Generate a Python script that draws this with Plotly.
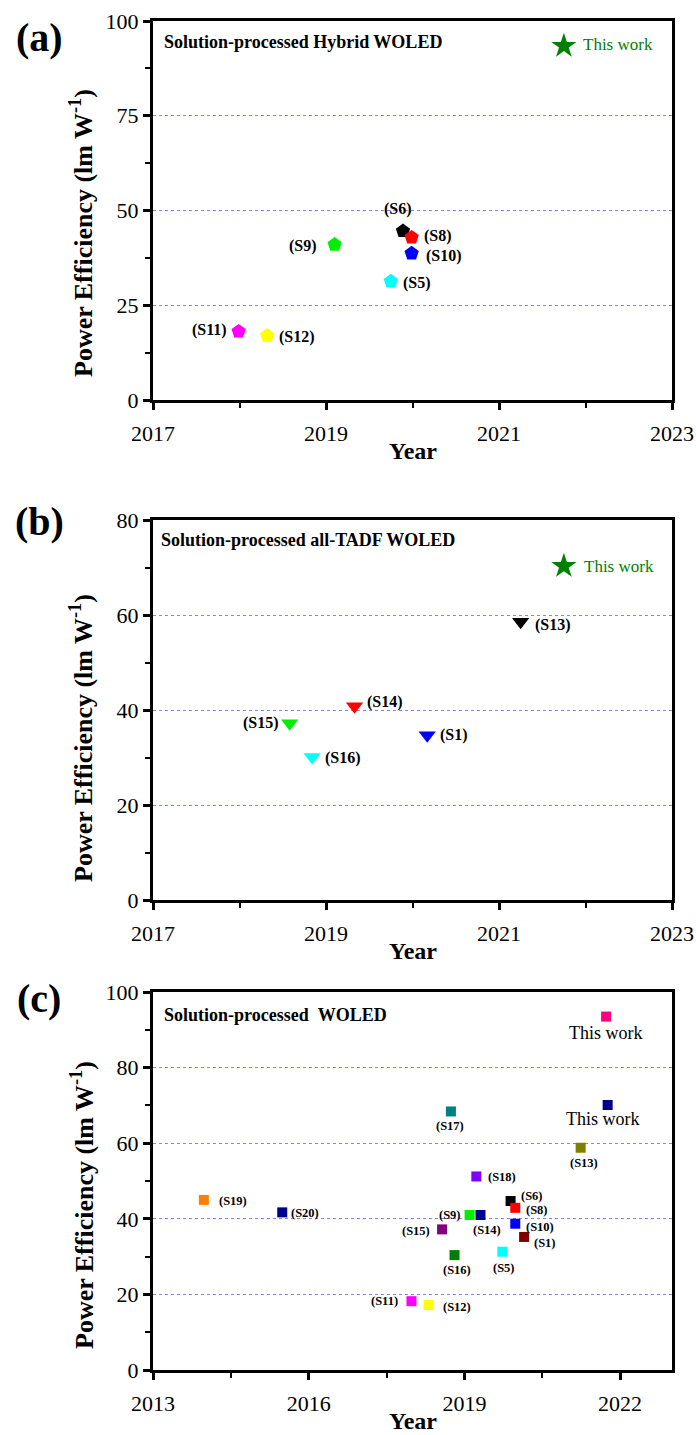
import plotly.graph_objects as go

# ---------------- data ----------------
# (a) solution-processed hybrid WOLEDs
hyb_refs = ["(S6)", "(S8)", "(S9)", "(S10)", "(S5)", "(S11)", "(S12)"]
hyb_year = [2019.89, 2019.99, 2019.10, 2019.99, 2019.75, 2017.99, 2018.32]
hyb_pe = [44.6, 42.9, 41.0, 38.7, 31.3, 18.1, 17.0]

# (b) solution-processed all-TADF WOLEDs
tadf_refs = ["(S13)", "(S14)", "(S15)", "(S16)", "(S1)"]
tadf_year = [2021.25, 2019.33, 2018.58, 2018.84, 2020.17]
tadf_pe = [58.6, 40.8, 37.2, 30.1, 34.7]

# this work (hybrid / all-TADF device)
work_year = 2021.75
work_pe_hybrid = 93.4
work_pe_tadf = 70.3

# (c) all solution-processed WOLEDs
all_refs = ["(S19)", "(S20)", "(S17)", "(S18)", "(S6)", "(S8)", "(S9)", "(S14)",
            "(S10)", "(S15)", "(S1)", "(S16)", "(S5)", "(S11)", "(S12)", "(S13)"]
all_year = [2013.98, 2015.49, 2018.74, 2019.23, 2019.89, 2019.98, 2019.10, 2019.31,
            2019.98, 2018.57, 2020.15, 2018.81, 2019.73, 2017.98, 2018.31, 2021.24]
all_pe = [45.0, 41.7, 68.4, 51.2, 44.7, 42.9, 41.0, 41.0,
          38.7, 37.2, 35.2, 30.4, 31.3, 18.2, 17.2, 58.8]
work_c_year = [2021.73, 2021.76]
work_c_pe = [93.5, 70.1]

# ---------------- styles ----------------
hyb_colors = ["#000000", "#ff0000", "#00ee00", "#0000ff", "#00ffff", "#ff00ff", "#ffff00"]
tadf_colors = ["#000000", "#ff0000", "#00ee00", "#00ffff", "#0000ff"]
all_colors = ["#ff8000", "#000090", "#008080", "#8000ff", "#000000", "#ff0000", "#00ee00",
              "#000090", "#0000ff", "#800080", "#800000", "#008000", "#00ffff", "#ff00ff",
              "#ffff00", "#808000"]
work_c_colors = ["#ff0080", "#000080"]
STAR = "#008000"
GRID = "#8484e4"
SERIF = "Liberation Serif"

# label placement: (xanchor, yanchor, xshift, yshift)
hyb_pos = {"(S6)": ("center", "middle", -5, 22), "(S8)": ("left", "middle", 10, 1),
           "(S9)": ("right", "middle", -16, -1), "(S10)": ("left", "middle", 12, -3),
           "(S5)": ("left", "middle", 10, -2), "(S11)": ("right", "middle", -10, 1),
           "(S12)": ("left", "middle", 10, -1)}
tadf_pos = {"(S13)": ("left", "middle", 12, -3), "(S14)": ("left", "middle", 10, 4),
            "(S15)": ("right", "middle", -9, 0), "(S16)": ("left", "middle", 11, -1),
            "(S1)": ("left", "middle", 11, 0)}
all_pos = {"(S19)": ("left", "middle", 13, -1), "(S20)": ("left", "middle", 7, -1),
           "(S17)": ("center", "middle", -1, -15), "(S18)": ("left", "middle", 10, -1),
           "(S6)": ("left", "middle", 8, 5), "(S8)": ("left", "middle", 9, -2),
           "(S9)": ("right", "middle", -7, 0), "(S14)": ("center", "middle", 7, -15),
           "(S10)": ("left", "middle", 9, -3), "(S15)": ("right", "middle", -10, -2),
           "(S1)": ("left", "middle", 8, -6), "(S16)": ("center", "middle", 2, -15),
           "(S5)": ("center", "middle", 2, -16), "(S11)": ("right", "middle", -11, 0),
           "(S12)": ("left", "middle", 12, -2), "(S13)": ("center", "middle", 3, -15)}

W, H = 696, 1435


def px(x):
    return x / W


def py(y):
    return 1 - y / H


# plot areas in pixels: (left, right, top, bottom)
boxes = [(153, 672, 21, 400), (153, 672, 520, 900), (153, 672, 992, 1370)]

fig = go.Figure()

# (a)
fig.add_trace(go.Scatter(x=hyb_year, y=hyb_pe, mode="markers", xaxis="x", yaxis="y",
                         marker=dict(symbol="pentagon", size=15, color=hyb_colors,
                                     line=dict(width=0)), showlegend=False))
fig.add_trace(go.Scatter(x=[work_year], y=[work_pe_hybrid], mode="markers", xaxis="x", yaxis="y",
                         marker=dict(symbol="star", size=19, color=STAR, line=dict(width=0)),
                         showlegend=False))
# (b)
fig.add_trace(go.Scatter(x=tadf_year, y=tadf_pe, mode="markers", xaxis="x2", yaxis="y2",
                         marker=dict(symbol="triangle-down", size=15, color=tadf_colors,
                                     line=dict(width=0)), showlegend=False))
fig.add_trace(go.Scatter(x=[work_year], y=[work_pe_tadf], mode="markers", xaxis="x2", yaxis="y2",
                         marker=dict(symbol="star", size=19, color=STAR, line=dict(width=0)),
                         showlegend=False))
# (c)
fig.add_trace(go.Scatter(x=all_year, y=all_pe, mode="markers", xaxis="x3", yaxis="y3",
                         marker=dict(symbol="square", size=10, color=all_colors,
                                     line=dict(width=0)), showlegend=False))
fig.add_trace(go.Scatter(x=work_c_year, y=work_c_pe, mode="markers", xaxis="x3", yaxis="y3",
                         marker=dict(symbol="square", size=10, color=work_c_colors,
                                     line=dict(width=0)), showlegend=False))

tick_font = dict(family=SERIF, size=22, color="black")


def xaxis(box, rng, tick0, dtick, minor):
    l, r, t, b = box
    return dict(domain=[px(l), px(r)], range=rng, tickmode="linear", tick0=tick0, dtick=dtick,
                tickformat="d", ticks="outside", ticklen=7, tickwidth=2.5, tickcolor="black",
                ticklabelstandoff=5,
                minor=dict(ticks="outside", dtick=minor, ticklen=5, tickwidth=2, tickcolor="black",
                           showgrid=False),
                showline=True, linewidth=3, linecolor="black", mirror=True,
                showgrid=False, zeroline=False, tickfont=tick_font, automargin=False,
                fixedrange=True)


def yaxis(box, rng, dtick, minor):
    l, r, t, b = box
    return dict(domain=[py(b), py(t)], range=rng, tickmode="linear", tick0=0, dtick=dtick,
                ticks="outside", ticklen=7, tickwidth=2.5, tickcolor="black",
                minor=dict(ticks="outside", dtick=minor, ticklen=5, tickwidth=2, tickcolor="black",
                           showgrid=False),
                showline=True, linewidth=3, linecolor="black", mirror=True,
                showgrid=True, gridcolor=GRID, griddash="dot", gridwidth=1.3,
                zeroline=False, tickfont=tick_font, automargin=False, fixedrange=True)


layout = dict(width=W, height=H, margin=dict(l=0, r=0, t=0, b=0),
              paper_bgcolor="white", plot_bgcolor="white", showlegend=False,
              font=dict(family=SERIF, color="black"))
layout["xaxis"] = xaxis(boxes[0], [2017, 2023], 2017, 2, 1)
layout["yaxis"] = yaxis(boxes[0], [0, 100], 25, 12.5)
layout["xaxis2"] = xaxis(boxes[1], [2017, 2023], 2017, 2, 1)
layout["yaxis2"] = yaxis(boxes[1], [0, 80], 20, 10)
layout["xaxis3"] = xaxis(boxes[2], [2013, 2023], 2013, 3, 1.5)
layout["yaxis3"] = yaxis(boxes[2], [0, 100], 20, 10)
layout["xaxis2"]["anchor"] = "y2"
layout["yaxis2"]["anchor"] = "x2"
layout["xaxis3"]["anchor"] = "y3"
layout["yaxis3"]["anchor"] = "x3"
fig.update_layout(**layout)

ann = []


def label(xref, yref, x, y, text, pos, size, bold=True, color="black"):
    xa, ya, xs, ys = pos
    ann.append(dict(xref=xref, yref=yref, x=x, y=y, text=f"<b>{text}</b>" if bold else text,
                    showarrow=False, xanchor=xa, yanchor=ya, xshift=xs, yshift=ys,
                    font=dict(family=SERIF, size=size, color=color)))


for r, xv, yv in zip(hyb_refs, hyb_year, hyb_pe):
    label("x", "y", xv, yv, r, hyb_pos[r], 16)
label("x", "y", work_year, work_pe_hybrid, "This work", ("left", "middle", 17, 2), 17,
      bold=False, color=STAR)

for r, xv, yv in zip(tadf_refs, tadf_year, tadf_pe):
    label("x2", "y2", xv, yv, r, tadf_pos[r], 16)
label("x2", "y2", work_year, work_pe_tadf, "This work", ("left", "middle", 18, 0), 17,
      bold=False, color=STAR)

for r, xv, yv in zip(all_refs, all_year, all_pe):
    label("x3", "y3", xv, yv, r, all_pos[r], 12.5)
label("x3", "y3", work_c_year[0], work_c_pe[0], "This work", ("center", "middle", 0, -16), 18,
      bold=False)
label("x3", "y3", work_c_year[1], work_c_pe[1], "This work", ("center", "middle", -5, -14), 18,
      bold=False)

# panel letters, inner titles, axis titles
letters = ["(a)", "(b)", "(c)"]
letter_y = [38, 522, 998]
titles = ["Solution-processed Hybrid WOLED", "Solution-processed all-TADF WOLED",
          "Solution-processed\u00a0\u00a0WOLED"]
title_xy = [(162, 42), (159, 540), (162, 1015)]
ytitle_center = [233, 738, 1205]

for i, box in enumerate(boxes):
    l, r, t, b = box
    ann.append(dict(xref="paper", yref="paper", x=px(39), y=py(letter_y[i]),
                    text=f"<b>{letters[i]}</b>", showarrow=False, xanchor="center",
                    yanchor="middle", font=dict(family=SERIF, size=40, color="black")))
    ann.append(dict(xref="paper", yref="paper", x=px(title_xy[i][0]), y=py(title_xy[i][1]),
                    text=f"<b>{titles[i]}</b>", showarrow=False, xanchor="left",
                    yanchor="middle", font=dict(family=SERIF, size=18, color="black")))
    ann.append(dict(xref="paper", yref="paper", x=px((l + r) / 2), y=py(b + 51),
                    text="<b>Year</b>", showarrow=False, xanchor="center", yanchor="middle",
                    font=dict(family=SERIF, size=24, color="black")))
    ann.append(dict(xref="paper", yref="paper", x=px(82), y=py(ytitle_center[i]),
                    text="<b>Power Efficiency (lm W<sup>-1</sup>)</b>", showarrow=False,
                    textangle=-90, xanchor="center", yanchor="middle",
                    font=dict(family=SERIF, size=26, color="black")))

fig.update_layout(annotations=ann)
fig.write_html("out.html")
